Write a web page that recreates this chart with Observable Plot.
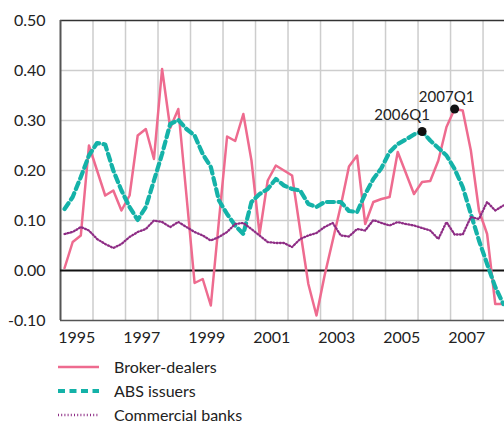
<!DOCTYPE html>
<html><head><meta charset="utf-8">
<script src="https://cdn.jsdelivr.net/npm/d3@7"></script>
<script src="https://cdn.jsdelivr.net/npm/@observablehq/plot@0.6"></script>
<style>
html,body{margin:0;padding:0;background:#fff;overflow:hidden;}
body{font-family:Lato,"Open Sans",sans-serif;color:#222;width:504px;height:423px;}
#chart svg{display:block}
#legend{margin-top:5px}
.row{display:flex;align-items:center;height:24px;font-size:16px;line-height:16px;color:#222}
.row svg{margin-left:58px;margin-right:15px}
</style></head>
<body><div id="chart"></div><div id="legend"></div>
<script>
const seriesNames = ["Broker-dealers", "ABS issuers", "Commercial banks"];
const colors = ["#ee6b8f", "#14b2a8", "#8e2d85"];
const startYear = 1995;
const broker = [0.005,0.057,0.07,0.25, 0.20,0.15,0.16,0.12, 0.15,0.27,0.283,0.223, 0.403,0.285,0.323,0.15,
  -0.025,-0.017,-0.07,0.10, 0.268,0.259,0.313,0.22, 0.073,0.18,0.21,0.20, 0.19,0.08,-0.027,-0.09,
  -0.01,0.06,0.13,0.208, 0.23,0.093,0.137,0.143, 0.147,0.237,0.195,0.153, 0.177,0.179,0.22,0.287,
  0.323,0.32,0.24,0.12, 0.073,-0.067,-0.067];
const abs = [0.123,0.147,0.187,0.23, 0.255,0.252,0.20,0.16, 0.127,0.101,0.127,0.18, 0.233,0.293,0.301,0.283,
  0.27,0.233,0.207,0.14, 0.113,0.09,0.073,0.137, 0.153,0.163,0.183,0.17, 0.163,0.16,0.133,0.127,
  0.137,0.137,0.137,0.119, 0.117,0.153,0.183,0.205, 0.237,0.253,0.262,0.272, 0.278,0.26,0.245,0.23,
  0.203,0.167,0.113,0.06, 0.013,-0.033,-0.067];
const banks = [0.073,0.077,0.087,0.08, 0.063,0.053,0.045,0.053, 0.067,0.077,0.083,0.1, 0.097,0.087,0.097,0.087,
  0.077,0.07,0.06,0.067, 0.077,0.093,0.095,0.083, 0.07,0.057,0.055,0.055, 0.047,0.063,0.07,0.075,
  0.087,0.095,0.07,0.068, 0.083,0.08,0.101,0.095, 0.09,0.097,0.093,0.09, 0.085,0.08,0.063,0.097,
  0.072,0.072,0.107,0.103, 0.137,0.12,0.13];
const yTicks = [-0.1, 0, 0.1, 0.2, 0.3, 0.4, 0.5];
const yTickLabels = ["-0.10", "0.00", "0.10", "0.20", "0.30", "0.40", "0.50"];
const xLabelYears = [1995, 1997, 1999, 2001, 2003, 2005, 2007];
const xLabels = ["1995", "1997", "1999", "2001", "2003", "2005", "2007"];
const gridYears = [1996,1997,1998,1999,2000,2001,2002,2003,2004,2005,2006,2007,2008];
const annotLabels = ["2006Q1", "2007Q1"];

// build table: quarter label + mid-quarter time
const rows = broker.map((b, i) => {
  const yr = startYear + Math.floor(i / 4), q = (i % 4) + 1;
  return {q: yr + "Q" + q, t: yr + (q - 0.5) / 4, broker: b, abs: abs[i], banks: banks[i]};
});
const a1 = rows.find(r => r.q === annotLabels[0]);
const a2 = rows.find(r => r.q === annotLabels[1]);

const chart = Plot.plot({
  width: 504, height: 350,
  marginLeft: 60, marginRight: 0, marginTop: 20, marginBottom: 30,
  style: {fontFamily: "Lato, 'Open Sans', sans-serif", fontSize: "16px", color: "#222", background: "#fff", overflow: "visible"},
  x: {domain: [1995, 2008.66], axis: null, label: null},
  y: {domain: [-0.1, 0.5], axis: null, label: null},
  marks: [
    Plot.gridX(gridYears, {stroke: "#cdcdcd", strokeOpacity: 1, strokeWidth: 1.5}),
    Plot.gridY(yTicks.filter(v => v > -0.1 && v < 0.5 && v !== 0), {stroke: "#cdcdcd", strokeOpacity: 1, strokeWidth: 1.5}),
    Plot.ruleY([0.5], {stroke: "#333", strokeWidth: 1.5}),
    Plot.ruleY([-0.1], {stroke: "#555", strokeWidth: 1.5}),
    Plot.ruleX([1995], {stroke: "#555", strokeWidth: 2}),
    Plot.ruleY([0], {stroke: "#111", strokeWidth: 2}),
    Plot.axisY(yTicks, {tickSize: 0, tickPadding: 15, label: null, tickFormat: d => yTickLabels[yTicks.indexOf(d)], fill: "#222"}),
    Plot.axisX(xLabelYears.map(y => y + 0.5), {tickSize: 0, tickPadding: 11, label: null, tickFormat: d => xLabels[xLabelYears.indexOf(Math.floor(d))], fill: "#222"}),
    Plot.line(rows, {x: "t", y: "broker", stroke: colors[0], strokeWidth: 2.5}),
    Plot.line(rows, {x: "t", y: "abs", stroke: colors[1], strokeWidth: 4.2, strokeDasharray: "7,4.5"}),
    Plot.line(rows, {x: "t", y: "banks", stroke: colors[2], strokeWidth: 2.3, strokeDasharray: "1,2.2"}),
    Plot.dot([a1], {x: "t", y: "abs", r: 4.5, fill: "#111", stroke: "none"}),
    Plot.dot([a2], {x: "t", y: "broker", r: 4.5, fill: "#111", stroke: "none"}),
    Plot.text([a1], {x: "t", y: "abs", text: "q", dx: -20, dy: -16, fontSize: 15, fill: "#222"}),
    Plot.text([a2], {x: "t", y: "broker", text: "q", dx: -8, dy: -12, fontSize: 15, fill: "#222"})
  ]
});
document.getElementById("chart").appendChild(chart);

const dashes = [null, "7,4.5", "1,2.2"];
const widths = [2.5, 4.2, 2.3];
const legend = document.getElementById("legend");
seriesNames.forEach((name, i) => {
  const row = document.createElement("div");
  row.className = "row";
  row.innerHTML = `<svg width="41" height="10"><line x1="0" x2="41" y1="5" y2="5" stroke="${colors[i]}" stroke-width="${widths[i]}" ${dashes[i] ? `stroke-dasharray="${dashes[i]}"` : ""}/></svg><span>${name}</span>`;
  legend.appendChild(row);
});
</script></body></html>
